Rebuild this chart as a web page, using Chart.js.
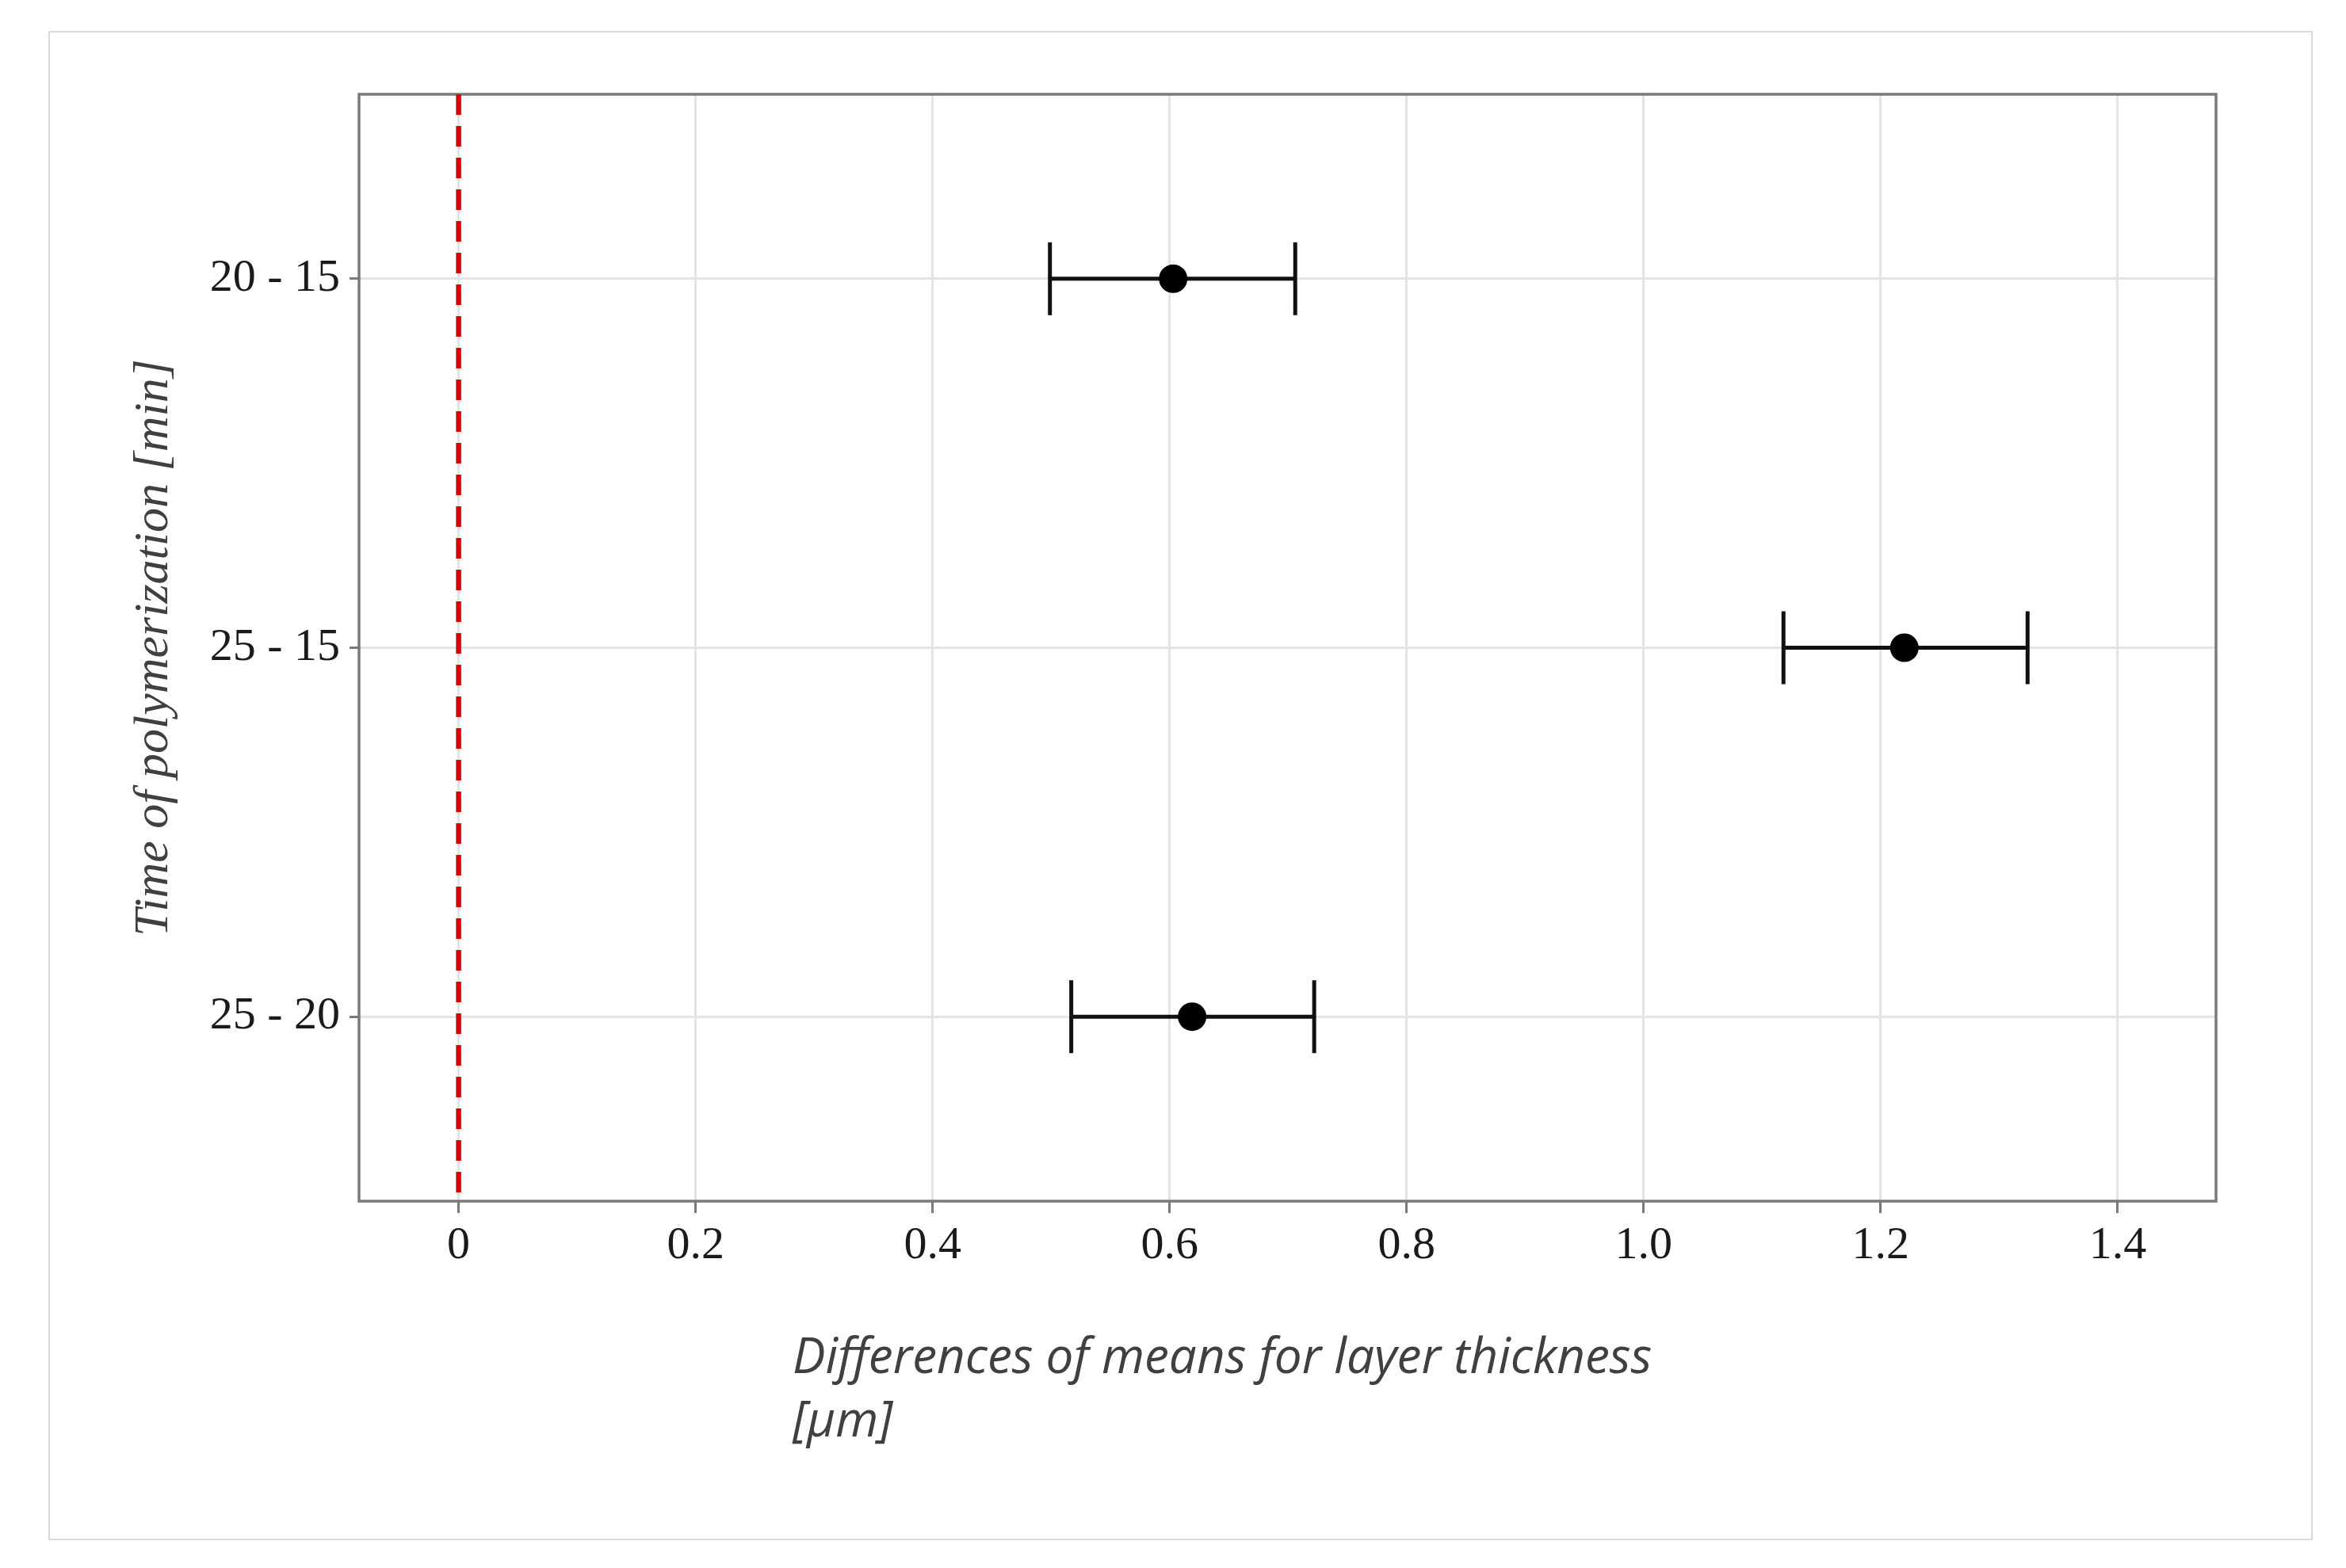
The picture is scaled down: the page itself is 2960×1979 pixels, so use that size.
<!DOCTYPE html>
<html>
<head>
<meta charset="utf-8">
<script src="https://cdn.jsdelivr.net/npm/chart.js@4.4.0/dist/chart.umd.min.js"></script>
<style>
html, body { margin: 0; padding: 0; background: #fff; }
#wrap { width: 2960px; height: 1979px; position: relative; }
</style>
</head>
<body>
<div id="wrap"><canvas id="chart"></canvas></div>
<script>
// comparisons (Tukey style), mean difference + CI
const rows = ['20 - 15', '25 - 15', '25 - 20'];
const meanDiff = [0.603, 1.220, 0.619];
const lowerCI = [0.499, 1.118, 0.517];
const upperCI = [0.706, 1.324, 0.722];
const xTicks = [0, 0.2, 0.4, 0.6, 0.8, 1.0, 1.2, 1.4];
const xTickLabels = ['0', '0.2', '0.4', '0.6', '0.8', '1.0', '1.2', '1.4'];
const refLine = 0;
const xTitle = ['Differences of means for layer thickness', '[µm]'];
const yTitle = 'Time of polymerization [min]';

const ink = '#000000';

let datasets = [];

// mean points (first = drawn on top)
datasets.push({
  data: meanDiff.map((m, i) => ({ x: m, y: i })),
  pointRadius: 18,
  pointBackgroundColor: ink,
  pointBorderColor: ink,
  pointBorderWidth: 0,
  showLine: false
});

// whiskers with caps
for (let i = 0; i < rows.length; i++) {
  datasets.push({
    data: [{ x: lowerCI[i], y: i }, { x: upperCI[i], y: i }],
    showLine: true,
    borderColor: '#111',
    borderWidth: 5,
    pointStyle: 'line',
    rotation: 90,
    pointRadius: 46,
    pointBorderColor: '#111',
    pointBorderWidth: 5
  });
}

// red dashed reference line at zero
datasets.push({
  data: [{ x: refLine, y: -0.5 }, { x: refLine, y: rows.length - 0.5 }],
  showLine: true,
  borderColor: '#e00000',
  borderWidth: 6.5,
  borderDash: [26, 14],
  pointRadius: 0
});

const decor = {
  id: 'decor',
  beforeDraw(chart) {
    const ctx = chart.ctx;
    ctx.save();
    ctx.strokeStyle = '#dadada';
    ctx.lineWidth = 2;
    ctx.strokeRect(62, 40, 2855, 1903);
    ctx.restore();
  },
  beforeDatasetsDraw(chart) {
    const ctx = chart.ctx, a = chart.chartArea;
    ctx.save();
    ctx.strokeStyle = '#7a7a7a';
    ctx.lineWidth = 3.5;
    ctx.strokeRect(a.left, a.top, a.right - a.left, a.bottom - a.top);
    ctx.restore();
  },
  afterDraw(chart) {
    const ctx = chart.ctx;
    ctx.save();
    ctx.font = 'italic 62px "Open Sans"';
    ctx.fillStyle = '#404040';
    ctx.textAlign = 'left';
    ctx.textBaseline = 'alphabetic';
    ctx.fillText(xTitle[0], 1000, 1733);
    ctx.fillText(xTitle[1], 1000, 1813);
    ctx.restore();
  }
};

new Chart(document.getElementById('chart'), {
  type: 'scatter',
  data: { datasets: datasets },
  plugins: [decor],
  options: {
    responsive: true,
    maintainAspectRatio: false,
    animation: false,
    events: [],
    layout: { padding: { top: 119, right: 164, left: 0, bottom: 0 } },
    plugins: { legend: { display: false }, tooltip: { enabled: false } },
    scales: {
      x: {
        type: 'linear',
        min: -0.084,
        max: 1.483,
        afterBuildTicks: s => { s.ticks = xTicks.map(v => ({ value: v })); },
        afterFit: s => { s.height = 463; },
        border: { display: false },
        grid: { color: '#e4e4e4', lineWidth: 3, tickLength: 15, tickColor: '#7a7a7a', tickWidth: 3 },
        ticks: {
          padding: 7,
          color: '#1a1a1a',
          font: { family: '"Liberation Serif", serif', size: 58 },
          callback: (v, i) => xTickLabels[i]
        },
        title: { display: false }
      },
      y: {
        type: 'linear',
        min: -0.5,
        max: rows.length - 0.5,
        reverse: true,
        afterBuildTicks: s => { s.ticks = rows.map((r, i) => ({ value: i })); },
        afterFit: s => { s.width = 453; },
        border: { display: false },
        grid: { color: '#e4e4e4', lineWidth: 3, tickLength: 12, tickColor: '#7a7a7a', tickWidth: 3 },
        ticks: {
          padding: 12,
          color: '#1a1a1a',
          font: { family: '"Liberation Serif", serif', size: 58 },
          callback: v => rows[v]
        },
        title: {
          display: true,
          text: yTitle,
          color: '#404040',
          font: { family: '"Liberation Serif", serif', size: 62, style: 'italic' },
          padding: { top: 158, bottom: 0 }
        }
      }
    }
  }
});
</script>
</body>
</html>
